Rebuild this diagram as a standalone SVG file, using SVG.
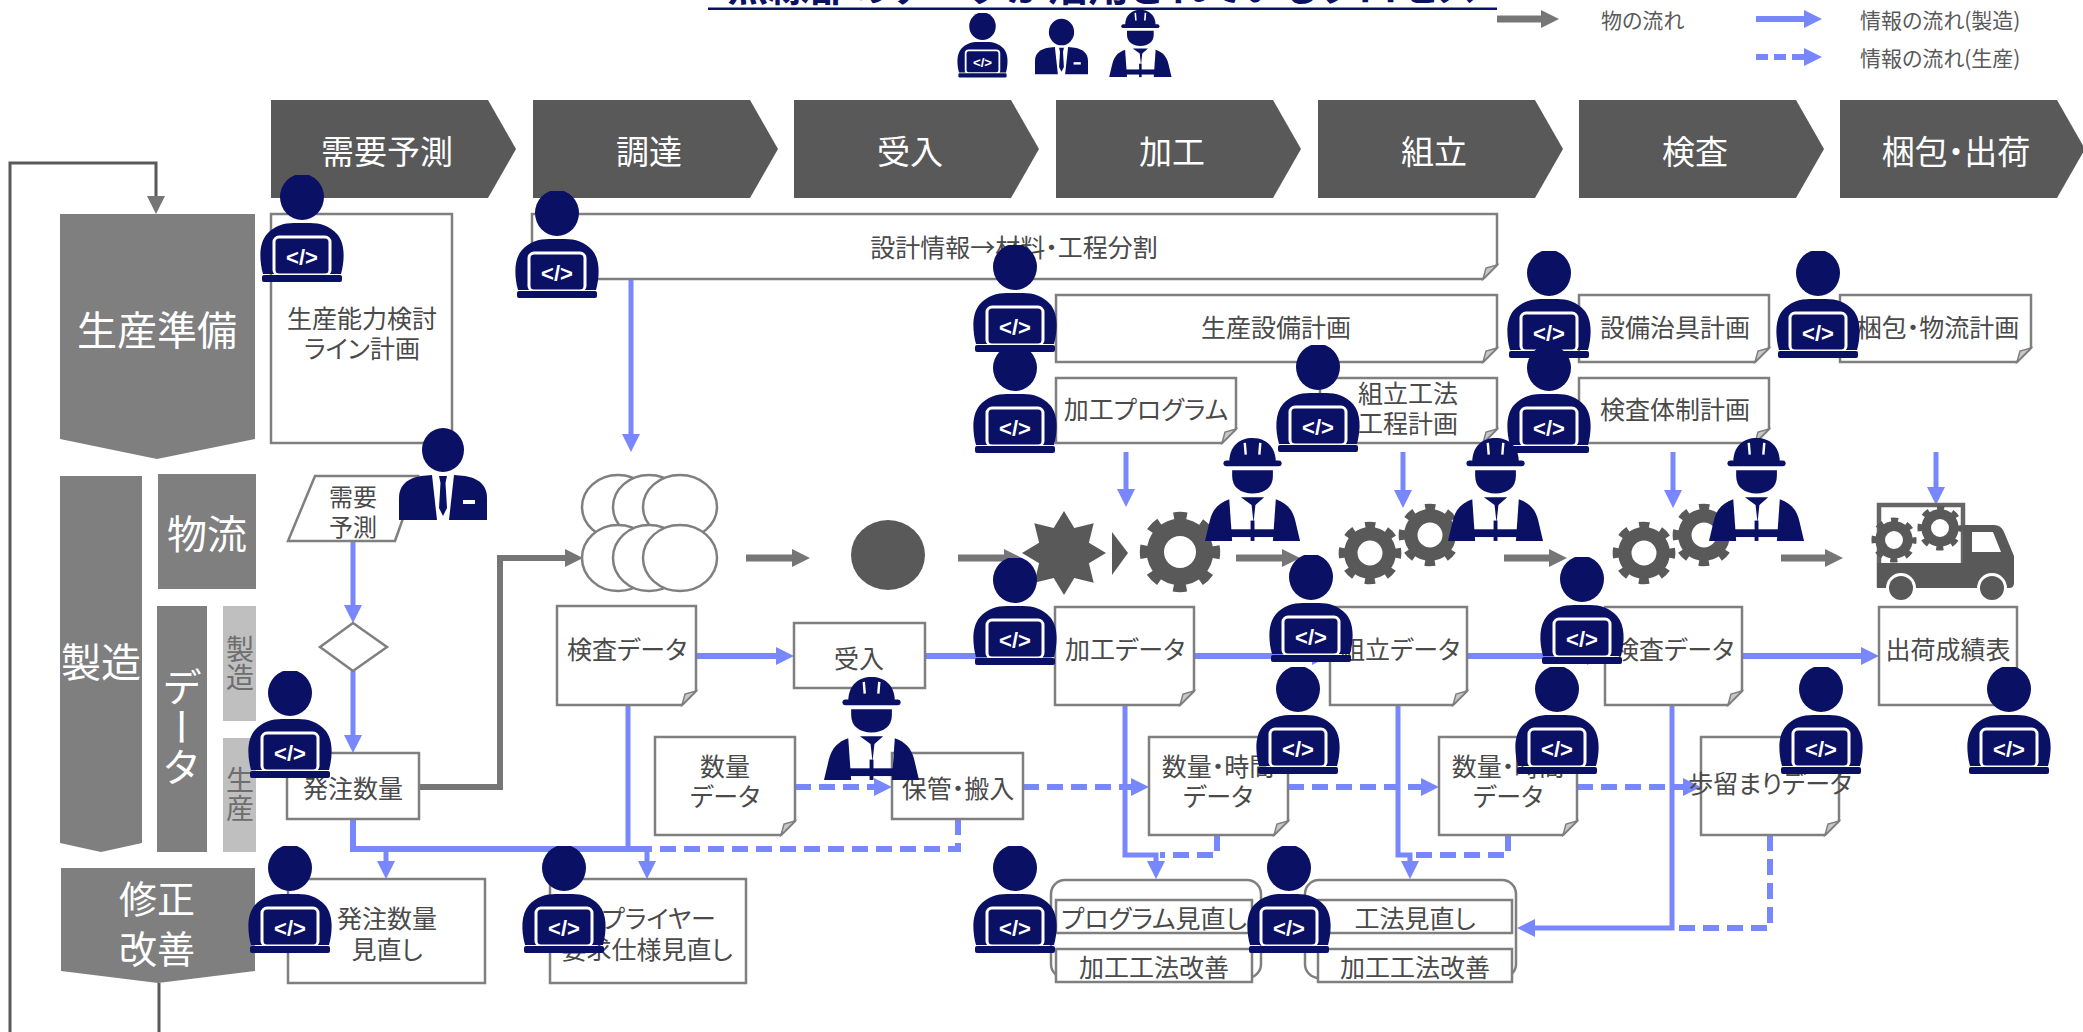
<svg xmlns="http://www.w3.org/2000/svg" width="2083" height="1032" viewBox="0 0 2083 1032">
<defs>
<style>
 text{font-family:'Noto Sans CJK JP','Noto Sans',sans-serif;font-feature-settings:"palt";dominant-baseline:central;}
 .lbl{font-size:25px;fill:#4a4a4a;text-anchor:middle;}
 .sm{font-size:24px;}
 .box{fill:#fff;stroke:#7f7f7f;stroke-width:2.5;}
 .fold{fill:#c8c8c8;stroke:#7f7f7f;stroke-width:1.5;}
 .hdr{fill:#595959;}
 .hdrt{font-size:33px;fill:#fff;text-anchor:middle;}
 .row{fill:#7f7f7f;}
 .rowt{font-size:40px;fill:#fff;text-anchor:middle;}
 .vert{writing-mode:vertical-rl;}
 .sub{fill:#bfbfbf;}
 .subt{font-size:28px;fill:#6e6e6e;text-anchor:middle;}
 .flow{fill:none;stroke:#767676;stroke-width:7;}
 .info{fill:none;stroke:#7887fb;stroke-width:5;}
 .info6{fill:none;stroke:#7887fb;stroke-width:6;}
 .prod{fill:none;stroke:#7887fb;stroke-width:6;stroke-dasharray:16 8;}
 .legt{font-size:21px;fill:#595959;}
 .navy{fill:#0a1064;}
 .shape{fill:#595959;}
</style>
<marker id="hg" markerUnits="userSpaceOnUse" markerWidth="20" markerHeight="20" refX="1" refY="9" orient="auto"><path d="M0,0 L18,9 L0,18 Z" fill="#767676"/></marker>
<marker id="hb" markerUnits="userSpaceOnUse" markerWidth="20" markerHeight="20" refX="1" refY="9" orient="auto"><path d="M0,0 L18,9 L0,18 Z" fill="#7887fb"/></marker>

<!-- person at a laptop -->
<symbol id="dev" viewBox="0 0 88 108">
 <path class="navy" d="M5,99 C1,84 1,68 9,59 C16,51 26,48 36,48 L52,48 C62,48 72,51 79,59 C87,68 87,84 83,99 Z"/>
 <ellipse class="navy" cx="44" cy="22" rx="22" ry="23"/>
 <rect x="16" y="62" width="56" height="38" rx="5" fill="#0a1064" stroke="#fff" stroke-width="3"/>
 <rect class="navy" x="4" y="100" width="80" height="7" rx="2"/>
 <text x="44" y="82" style="font-family:'Liberation Sans',sans-serif;font-weight:bold;font-size:22px;fill:#fff;text-anchor:middle">&lt;/&gt;</text>
</symbol>

<!-- manager in suit -->
<symbol id="biz" viewBox="0 0 88 92">
 <ellipse class="navy" cx="44" cy="22" rx="21" ry="22"/>
 <path class="navy" d="M0,92 V70 C0,56 10,50 22,48 L33,47 L38,92 Z"/>
 <path class="navy" d="M88,92 V70 C88,56 78,50 66,48 L55,47 L50,92 Z"/>
 <path class="navy" d="M40,48 H48 L46.5,55 L48,80 L44,88 L40,80 L41.5,55 Z"/>
 <rect x="64" y="72" width="12" height="4" fill="#fff"/>
</symbol>

<!-- worker with hard hat and vest -->
<symbol id="worker" viewBox="0 0 100 110">
 <path class="navy" d="M25,26 C25,9 36,1 49,1 C62,1 73,9 73,26 Z"/>
 <rect class="navy" x="19" y="24" width="60" height="6" rx="3"/>
 <path d="M41,6 L42,18 M57,6 L56,18" stroke="#fff" stroke-width="2.5" fill="none"/>
 <path class="navy" d="M28,34 H70 V40 C70,52 61,58 49,58 C37,58 28,52 28,40 Z"/>
 <path class="navy" d="M0,107 L5,86 C8,74 14,68 25,64 L28,107 Z"/>
 <path class="navy" d="M98,107 L93,86 C90,74 84,68 73,64 L70,107 Z"/>
 <path class="navy" d="M37,62 H61 L52,70 L50,88 L48,70 Z"/>
 <rect class="navy" x="47" y="86" width="4" height="21"/>
 <rect class="navy" x="6" y="95" width="86" height="8"/>
</symbol>

<!-- gear -->
<symbol id="gear" viewBox="-50 -50 100 100">
 <circle r="30" fill="none" stroke="#595959" stroke-width="21"/>
 <circle r="43" fill="none" stroke="#595959" stroke-width="12" stroke-dasharray="15.5 18.27" stroke-dashoffset="7.75"/>
</symbol>
</defs>

<rect width="2083" height="1032" fill="#fff"/>

<!-- heading (upper part lies above the sheet) -->
<g id="title">
 <text x="1102" y="1" style="dominant-baseline:alphabetic;font-size:41px;font-weight:bold;fill:#0a1064;text-anchor:middle">点線部のデータが活用されているプロセス</text>
 <rect x="708" y="7.5" width="789" height="2.5" fill="#0a1064"/>
</g>

<!-- legend -->
<g id="legend">
 <path class="flow" d="M1497,19 H1542" marker-end="url(#hg)"/>
 <text class="legt" x="1601" y="19">物の流れ</text>
 <path class="info6" d="M1756,19 H1805" marker-end="url(#hb)"/>
 <text class="legt" x="1860" y="19">情報の流れ(製造)</text>
 <path class="prod" style="stroke-dasharray:12 6" d="M1756,57 H1805" marker-end="url(#hb)"/>
 <text class="legt" x="1860" y="57">情報の流れ(生産)</text>
</g>

<!-- process header -->
<g id="header">
 <g id="h-demand"><path class="hdr" d="M271,100 H488 L516,149 L488,198 H271 Z"/><text class="hdrt" x="387" y="150">需要予測</text></g>
 <g id="h-procure"><path class="hdr" d="M533,100 H750 L778,149 L750,198 H533 Z"/><text class="hdrt" x="649" y="150">調達</text></g>
 <g id="h-receive"><path class="hdr" d="M794,100 H1011 L1039,149 L1011,198 H794 Z"/><text class="hdrt" x="910" y="150">受入</text></g>
 <g id="h-machining"><path class="hdr" d="M1056,100 H1273 L1301,149 L1273,198 H1056 Z"/><text class="hdrt" x="1172" y="150">加工</text></g>
 <g id="h-assembly"><path class="hdr" d="M1318,100 H1535 L1563,149 L1535,198 H1318 Z"/><text class="hdrt" x="1434" y="150">組立</text></g>
 <g id="h-inspection"><path class="hdr" d="M1579,100 H1796 L1824,149 L1796,198 H1579 Z"/><text class="hdrt" x="1695" y="150">検査</text></g>
 <g id="h-shipping"><path class="hdr" d="M1840,100 H2057 L2085,149 L2057,198 H1840 Z"/><text class="hdrt" x="1956" y="150">梱包・出荷</text></g>
</g>

<!-- row labels -->
<g id="rows">
 <g id="r-prep"><path class="row" d="M60,214 H255 V439 L157,459 L60,439 Z"/><text class="rowt" x="157" y="328">生産準備</text></g>
 <g id="r-mfg"><path class="row" d="M60,476 H142 V843 L101,852 L60,843 Z"/><text class="rowt" x="101" y="660">製造</text></g>
 <g id="r-logi"><rect class="row" x="158" y="474" width="98" height="115"/><text class="rowt" x="207" y="532">物流</text></g>
 <g id="r-data"><rect class="row" x="157" y="606" width="50" height="246"/><text class="rowt vert" x="182" y="727">データ</text></g>
 <g id="r-data-mfg"><rect class="sub" x="223" y="606" width="33" height="115"/><text class="subt vert" x="240" y="663">製造</text></g>
 <g id="r-data-prod"><rect class="sub" x="223" y="738" width="33" height="114"/><text class="subt vert" x="240" y="794">生産</text></g>
 <g id="r-fix"><path class="row" d="M61,868 H255 V971 L158,983 L61,971 Z"/><text class="rowt" style="font-size:38px" x="157" y="896">修正</text><text class="rowt" style="font-size:38px" x="157" y="946">改善</text></g>
</g>

<!-- connectors -->
<g id="connectors">
 <!-- feedback loop -->
 <path d="M159,983 V1045 H10 V163 H156 V197" fill="none" stroke="#595959" stroke-width="3" marker-end="url(#hg)"/>
 <!-- material flow -->
 <path class="flow" style="stroke-width:6" d="M419,787 H500 V558 H566" marker-end="url(#hg)"/>
 <path class="flow" d="M746,558 H793" marker-end="url(#hg)"/>
 <path class="flow" d="M958,558 H1005" marker-end="url(#hg)"/>
 <path class="flow" d="M1236,558 H1283" marker-end="url(#hg)"/>
 <path class="flow" d="M1504,558 H1550" marker-end="url(#hg)"/>
 <path class="flow" d="M1781,558 H1826" marker-end="url(#hg)"/>
 <!-- manufacturing information -->
 <path class="info" d="M631,279 V435" marker-end="url(#hb)"/>
 <path class="info" d="M1126,452 V490" marker-end="url(#hb)"/>
 <path class="info" d="M1403,452 V491" marker-end="url(#hb)"/>
 <path class="info" d="M1673,452 V491" marker-end="url(#hb)"/>
 <path class="info" d="M1936,452 V488" marker-end="url(#hb)"/>
 <path class="info" d="M353,541 V606" marker-end="url(#hb)"/>
 <path class="info" d="M353,671 V736" marker-end="url(#hb)"/>
 <path class="info6" d="M353,819 V849 H650"/>
 <path class="info" d="M628,705 V849"/>
 <path class="info" d="M386,849 V862" marker-end="url(#hb)"/>
 <path class="info" d="M647,849 V862" marker-end="url(#hb)"/>
 <path class="info6" d="M696,656 H777" marker-end="url(#hb)"/>
 <path class="info6" d="M925,656 H1038" marker-end="url(#hb)"/>
 <path class="info6" d="M1194,656 H1313" marker-end="url(#hb)"/>
 <path class="info6" d="M1467,656 H1588" marker-end="url(#hb)"/>
 <path class="info6" d="M1742,656 H1862" marker-end="url(#hb)"/>
 <path class="info" d="M1125,705 V855 H1156 V862" marker-end="url(#hb)"/>
 <path class="info" d="M1398,705 V855 H1410 V862" marker-end="url(#hb)"/>
 <path class="info" d="M1672,705 V928 H1534" marker-end="url(#hb)"/>
 <!-- production information -->
 <path class="prod" d="M958,819 V849 H650"/>
 <path class="prod" d="M795,787 H875" marker-end="url(#hb)"/>
 <path class="prod" d="M1023,787 H1132" marker-end="url(#hb)"/>
 <path class="prod" d="M1288,787 H1422" marker-end="url(#hb)"/>
 <path class="prod" d="M1577,787 H1684" marker-end="url(#hb)"/>
 <path class="prod" d="M1217,835 V855 H1160"/>
 <path class="prod" d="M1508,835 V855 H1414"/>
 <path class="prod" d="M1770,835 V928 H1675"/>
</g>

<!-- planning boxes -->
<g id="n-capacity"><rect class="box" x="271" y="214" width="181" height="229"/><text class="lbl" x="362" y="317">生産能力検討</text><text class="lbl" x="362" y="347">ライン計画</text></g>
<g id="n-design"><path class="box" d="M532,214 H1497 V265 L1483,279 H532 Z"/><path class="fold" d="M1483,279 L1486,268 L1497,265 Z"/><text class="lbl" x="1014" y="246">設計情報→材料・工程分割</text></g>
<g id="n-equipment"><path class="box" d="M1056,295 H1497 V348 L1483,362 H1056 Z"/><path class="fold" d="M1483,362 L1486,351 L1497,348 Z"/><text class="lbl" x="1276" y="326">生産設備計画</text></g>
<g id="n-program"><path class="box" d="M1056,378 H1236 V429 L1222,443 H1056 Z"/><path class="fold" d="M1222,443 L1225,432 L1236,429 Z"/><text class="lbl" x="1146" y="408">加工プログラム</text></g>
<g id="n-method"><path class="box" d="M1320,378 H1497 V429 L1483,443 H1320 Z"/><path class="fold" d="M1483,443 L1486,432 L1497,429 Z"/><text class="lbl" x="1408" y="392">組立工法</text><text class="lbl" x="1408" y="422">工程計画</text></g>
<g id="n-jig"><path class="box" d="M1579,295 H1769 V348 L1755,362 H1579 Z"/><path class="fold" d="M1755,362 L1758,351 L1769,348 Z"/><text class="lbl" x="1675" y="326">設備治具計画</text></g>
<g id="n-inspplan"><path class="box" d="M1579,378 H1769 V429 L1755,443 H1579 Z"/><path class="fold" d="M1755,443 L1758,432 L1769,429 Z"/><text class="lbl" x="1675" y="408">検査体制計画</text></g>
<g id="n-packplan"><path class="box" d="M1840,295 H2031 V348 L2017,362 H1840 Z"/><path class="fold" d="M2017,362 L2020,351 L2031,348 Z"/><text class="lbl" x="1938" y="326">梱包・物流計画</text></g>

<!-- demand side -->
<g id="n-forecast"><path class="box" d="M315,476 L418,476 L395,541 L288,541 Z"/><text class="lbl sm" x="353" y="495">需要</text><text class="lbl sm" x="353" y="525">予測</text></g>
<g id="n-decision"><path class="box" d="M353,623 L387,647 L353,671 L320,647 Z"/></g>
<g id="n-order"><rect class="box" x="287" y="753" width="132" height="66"/><text class="lbl" x="353" y="787">発注数量</text></g>

<!-- material flow shapes -->
<g id="n-materials">
 <g fill="#fff" stroke="#7f7f7f" stroke-width="2.5">
  <ellipse cx="618" cy="507" rx="36" ry="32"/><ellipse cx="649" cy="507" rx="36" ry="32"/><ellipse cx="680" cy="507" rx="37" ry="32"/>
  <ellipse cx="618" cy="558" rx="36" ry="33"/><ellipse cx="649" cy="558" rx="36" ry="33"/><ellipse cx="680" cy="558" rx="37" ry="33"/>
 </g>
</g>
<g id="n-part"><ellipse class="shape" cx="888" cy="555" rx="37" ry="35"/></g>
<g id="n-blank"><polygon class="shape" points="1064,511 1074.3,528.1 1093.7,523.3 1088.9,542.7 1106,553 1088.9,563.3 1093.7,582.7 1074.3,577.9 1064,595 1053.7,577.9 1034.3,582.7 1039.1,563.3 1022,553 1039.1,542.7 1034.3,523.3 1053.7,528.1"/><polygon class="shape" points="1112,532 1128,553 1112,575"/></g>
<g id="n-gear-machining"><use href="#gear" x="1139" y="511" width="82" height="82"/></g>
<g id="n-gear-assembly"><use href="#gear" x="1338" y="521" width="64" height="64"/><use href="#gear" x="1398" y="503" width="64" height="64"/></g>
<g id="n-gear-inspection"><use href="#gear" x="1612" y="521" width="64" height="64"/><use href="#gear" x="1672" y="503" width="64" height="64"/></g>
<g id="n-truck">
 <rect x="1879" y="505" width="84" height="80" fill="none" stroke="#666" stroke-width="4.5"/>
 <rect class="shape" x="1877" y="563" width="88" height="25"/>
 <path class="shape" d="M1963,525 H1994 Q2001,525 2004,532 L2014,556 V583 Q2014,588 2009,588 H1963 Z"/>
 <path d="M1972,532 H1993 L2001,552 H1972 Z" fill="#fff"/>
 <circle cx="1901" cy="588" r="15" fill="#fff"/><circle class="shape" cx="1901" cy="588" r="12"/>
 <circle cx="1992" cy="588" r="15" fill="#fff"/><circle class="shape" cx="1992" cy="588" r="12"/>
 <use href="#gear" x="1871" y="517" width="46" height="46"/>
 <use href="#gear" x="1917" y="505" width="46" height="46"/>
</g>

<!-- manufacturing data -->
<g id="n-inspdata1"><path class="box" d="M557,606 H696 V691 L682,705 H557 Z"/><path class="fold" d="M682,705 L685,694 L696,691 Z"/><text class="lbl" x="627" y="648">検査データ</text></g>
<g id="n-receipt"><rect class="box" x="794" y="623" width="131" height="65"/><text class="lbl" x="859" y="657">受入</text></g>
<g id="n-machdata"><path class="box" d="M1055,607 H1194 V691 L1180,705 H1055 Z"/><path class="fold" d="M1180,705 L1183,694 L1194,691 Z"/><text class="lbl" x="1125" y="648">加工データ</text></g>
<g id="n-asmdata"><path class="box" d="M1330,607 H1467 V691 L1453,705 H1330 Z"/><path class="fold" d="M1453,705 L1456,694 L1467,691 Z"/><text class="lbl" x="1400" y="648">組立データ</text></g>
<g id="n-inspdata2"><path class="box" d="M1605,607 H1742 V691 L1728,705 H1605 Z"/><path class="fold" d="M1728,705 L1731,694 L1742,691 Z"/><text class="lbl" x="1674" y="648">検査データ</text></g>
<g id="n-shipreport"><rect class="box" x="1879" y="607" width="138" height="98"/><text class="lbl" x="1948" y="648">出荷成績表</text></g>

<!-- production data -->
<g id="n-qtydata"><path class="box" d="M655,737 H795 V821 L781,835 H655 Z"/><path class="fold" d="M781,835 L784,824 L795,821 Z"/><text class="lbl" x="725" y="765">数量</text><text class="lbl" x="725" y="795">データ</text></g>
<g id="n-storage"><rect class="box" x="892" y="753" width="131" height="66"/><text class="lbl" x="958" y="787">保管・搬入</text></g>
<g id="n-qtytime1"><path class="box" d="M1149,737 H1288 V821 L1274,835 H1149 Z"/><path class="fold" d="M1274,835 L1277,824 L1288,821 Z"/><text class="lbl" x="1218" y="765">数量・時間</text><text class="lbl" x="1218" y="795">データ</text></g>
<g id="n-qtytime2"><path class="box" d="M1439,737 H1577 V821 L1563,835 H1439 Z"/><path class="fold" d="M1563,835 L1566,824 L1577,821 Z"/><text class="lbl" x="1508" y="765">数量・時間</text><text class="lbl" x="1508" y="795">データ</text></g>
<g id="n-yield"><path class="box" d="M1701,737 H1839 V821 L1825,835 H1701 Z"/><path class="fold" d="M1825,835 L1828,824 L1839,821 Z"/><text class="lbl" x="1770" y="782">歩留まりデータ</text></g>

<!-- correction / improvement -->
<g id="n-orderreview"><rect class="box" x="288" y="879" width="197" height="104"/><text class="lbl" x="387" y="917">発注数量</text><text class="lbl" x="387" y="948">見直し</text></g>
<g id="n-supplier"><rect class="box" x="550" y="879" width="196" height="104"/><text class="lbl" x="647" y="917">サプライヤー</text><text class="lbl" x="647" y="948">要求仕様見直し</text></g>
<g id="n-review1">
 <rect class="box" x="1051" y="880" width="210" height="98" rx="14"/>
 <rect class="box" x="1056" y="900" width="196" height="33"/><text class="lbl" x="1154" y="917">プログラム見直し</text>
 <rect class="box" x="1056" y="949" width="196" height="33"/><text class="lbl" x="1154" y="966">加工工法改善</text>
</g>
<g id="n-review2">
 <rect class="box" x="1305" y="880" width="211" height="98" rx="14"/>
 <rect class="box" x="1318" y="900" width="194" height="33"/><text class="lbl" x="1415" y="917">工法見直し</text>
 <rect class="box" x="1318" y="949" width="194" height="33"/><text class="lbl" x="1415" y="966">加工工法改善</text>
</g>

<!-- people -->
<g id="people">
 <use href="#dev" x="956" y="13" width="53" height="65"/>
 <use href="#biz" x="1035" y="18" width="53" height="57"/>
 <use href="#worker" x="1108" y="9" width="66" height="70"/>

 <use href="#dev" x="258" y="175" width="88" height="108"/>
 <use href="#dev" x="513" y="191" width="88" height="108"/>
 <use href="#dev" x="971" y="245" width="88" height="108"/>
 <use href="#dev" x="971" y="346" width="88" height="108"/>
 <use href="#dev" x="1274" y="345" width="88" height="108"/>
 <use href="#dev" x="1505" y="251" width="88" height="108"/>
 <use href="#dev" x="1505" y="346" width="88" height="108"/>
 <use href="#dev" x="1774" y="251" width="88" height="108"/>
 <use href="#biz" x="399" y="428" width="88" height="92"/>
 <use href="#worker" x="1205" y="437" width="97" height="107"/>
 <use href="#worker" x="1448" y="437" width="97" height="107"/>
 <use href="#worker" x="1709" y="437" width="97" height="107"/>
 <use href="#dev" x="971" y="558" width="88" height="108"/>
 <use href="#dev" x="1267" y="555" width="88" height="108"/>
 <use href="#dev" x="1538" y="557" width="88" height="108"/>
 <use href="#worker" x="824" y="676" width="97" height="107"/>
 <use href="#dev" x="246" y="671" width="88" height="108"/>
 <use href="#dev" x="1254" y="667" width="88" height="108"/>
 <use href="#dev" x="1513" y="667" width="88" height="108"/>
 <use href="#dev" x="1777" y="667" width="88" height="108"/>
 <use href="#dev" x="1965" y="667" width="88" height="108"/>
 <use href="#dev" x="246" y="846" width="88" height="108"/>
 <use href="#dev" x="520" y="846" width="88" height="108"/>
 <use href="#dev" x="971" y="846" width="88" height="108"/>
 <use href="#dev" x="1245" y="846" width="88" height="108"/>
</g>
</svg>
